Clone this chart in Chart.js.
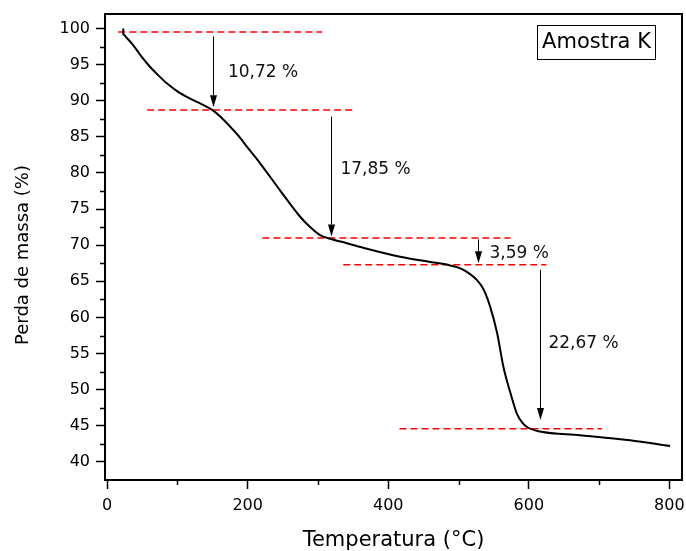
<!DOCTYPE html>
<html>
<head>
<meta charset="utf-8">
<script src="https://cdn.jsdelivr.net/npm/chart.js@4.4.0/dist/chart.umd.min.js"></script>
<style>
  html, body { margin: 0; padding: 0; background: #fff; }
</style>
</head>
<body>
<canvas id="tgaChart" width="686" height="551"></canvas>
<script>
// TGA curve
const temperature = [23, 23, 27, 37, 49, 61, 73, 85, 100, 118, 135, 150, 161, 177, 189, 200, 218, 246, 275, 290, 303, 317, 340, 370, 417, 465, 488, 505, 515, 526, 535, 545, 555, 564, 574, 583, 591, 598, 616, 673, 744, 801];
const massLoss = [100, 99.2, 98.8, 97.7, 96.1, 94.7, 93.5, 92.4, 91.3, 90.3, 89.5, 88.7, 87.8, 86.2, 84.9, 83.5, 81.3, 77.6, 73.9, 72.4, 71.4, 70.9, 70.3, 69.5, 68.4, 67.6, 67.2, 66.7, 66.1, 65.2, 64.0, 61.5, 57.8, 53.1, 49.5, 46.7, 45.4, 44.8, 44.2, 43.7, 43.0, 42.2];

const xMajorTicks = [0, 200, 400, 600, 800];
const xMinorTicks = [100, 300, 500, 700];
const yMajorTicks = [40, 45, 50, 55, 60, 65, 70, 75, 80, 85, 90, 95, 100];
const yMinorTicks = [42.5, 47.5, 52.5, 57.5, 62.5, 67.5, 72.5, 77.5, 82.5, 87.5, 92.5, 97.5];

// plateau levels (red dashed)
const levelValues = [99.5, 88.7, 71.0, 67.3, 44.6];
const levelStart = [16, 57, 221, 336, 416];
const levelEnd = [306, 349, 574, 625, 704];

// mass loss steps
const arrowX = [150, 318.5, 528, 616];
const arrowFrom = [98.9, 87.8, 70.8, 66.6];
const arrowTo = [89.1, 71.2, 67.5, 45.8];
const stepLabels = ['10,72 %', '17,85 %', '3,59 %', '22,67 %'];
const labelX = [172, 332, 544, 628];
const labelY = [93.9, 80.5, 68.8, 56.4];

const sampleName = 'Amostra K';
const xTitle = 'Temperatura (°C)';
const yTitle = 'Perda de massa (%)';

const FONT = 'DejaVu Sans';

const curve = temperature.map((t, i) => ({ x: t, y: massLoss[i] }));

const levelSets = levelValues.map((v, i) => ({
    data: [{ x: levelStart[i], y: v }, { x: levelEnd[i], y: v }],
    borderColor: '#ff0000',
    borderWidth: 1.5,
    borderDash: [7, 4],
    pointRadius: 0,
    tension: 0
}));

const extrasPlugin = {
    id: 'tgaExtras',
    afterDatasetsDraw(chart) {
        const { ctx, chartArea: area, scales: { x, y } } = chart;
        ctx.save();

        // minor ticks
        ctx.strokeStyle = '#000';
        ctx.lineWidth = 1.5;
        ctx.beginPath();
        yMinorTicks.forEach(v => {
            const py = Math.round(y.getPixelForValue(v)) + 0.5;
            ctx.moveTo(area.left - 5, py);
            ctx.lineTo(area.left, py);
        });
        xMinorTicks.forEach(v => {
            const px = Math.round(x.getPixelForValue(v)) + 0.5;
            ctx.moveTo(px, area.bottom);
            ctx.lineTo(px, area.bottom + 5);
        });
        ctx.stroke();

        // frame
        ctx.lineWidth = 2;
        ctx.strokeRect(area.left, area.top, area.right - area.left, area.bottom - area.top);

        // arrows
        ctx.fillStyle = '#000';
        ctx.lineWidth = 1;
        arrowX.forEach((ax, i) => {
            const px = Math.round(x.getPixelForValue(ax)) + 0.5;
            const y0 = y.getPixelForValue(arrowFrom[i]);
            const y1 = y.getPixelForValue(arrowTo[i]);
            const head = Math.min(12, (y1 - y0) * 0.6);
            ctx.beginPath();
            ctx.moveTo(px, y0);
            ctx.lineTo(px, y1 - head);
            ctx.stroke();
            ctx.beginPath();
            ctx.moveTo(px, y1);
            ctx.lineTo(px - 3.5, y1 - head);
            ctx.lineTo(px + 3.5, y1 - head);
            ctx.closePath();
            ctx.fill();
        });

        // step labels
        ctx.fillStyle = '#111';
        ctx.font = '17px "' + FONT + '"';
        ctx.textAlign = 'left';
        ctx.textBaseline = 'middle';
        stepLabels.forEach((txt, i) => {
            ctx.fillText(txt, x.getPixelForValue(labelX[i]), y.getPixelForValue(labelY[i]));
        });

        // sample box
        const bw = 118, bh = 34;
        const bx = area.right - 27 - bw, by = area.top + 11;
        ctx.lineWidth = 1;
        ctx.strokeStyle = '#000';
        ctx.strokeRect(bx + 0.5, by + 0.5, bw, bh);
        ctx.font = '21px "' + FONT + '"';
        ctx.textAlign = 'center';
        ctx.fillStyle = '#000';
        ctx.fillText(sampleName, bx + bw / 2 + 0.5, by + bh / 2 + 1);

        // y axis title (sits a bit below the axis centre in the original)
        ctx.translate(23, (area.top + area.bottom) / 2 + 8);
        ctx.rotate(-Math.PI / 2);
        ctx.font = '18px "' + FONT + '"';
        ctx.fillText(yTitle, 0, 0);

        ctx.restore();
    }
};

new Chart(document.getElementById('tgaChart').getContext('2d'), {
    type: 'line',
    data: {
        datasets: [
            {
                data: curve,
                borderColor: '#000',
                borderWidth: 2,
                pointRadius: 0,
                cubicInterpolationMode: 'monotone'
            },
            ...levelSets
        ]
    },
    options: {
        responsive: false,
        animation: false,
        devicePixelRatio: 1,
        layout: { padding: { top: 14, right: 4, left: 0, bottom: 0 } },
        plugins: {
            legend: { display: false },
            tooltip: { enabled: false }
        },
        scales: {
            x: {
                type: 'linear',
                min: -3,
                max: 818,
                afterBuildTicks: s => { s.ticks = xMajorTicks.map(v => ({ value: v })); },
                afterFit: s => { s.height = 71; s.paddingLeft = 0; s.paddingRight = 0; },
                grid: { drawOnChartArea: false, drawTicks: true, tickLength: 9, tickColor: '#000', tickWidth: 1.5 },
                border: { display: true, color: '#000', width: 2 },
                ticks: { color: '#000', padding: 7, font: { family: FONT, size: 16 } },
                title: {
                    display: true,
                    text: xTitle,
                    color: '#000',
                    font: { family: FONT, size: 21 },
                    padding: { top: 0, bottom: -2 }
                }
            },
            y: {
                type: 'linear',
                min: 37.5,
                max: 102,
                afterBuildTicks: s => { s.ticks = yMajorTicks.map(v => ({ value: v })); },
                afterFit: s => { s.width = 105; s.paddingTop = 0; s.paddingBottom = 0; },
                grid: { drawOnChartArea: false, drawTicks: true, tickLength: 9, tickColor: '#000', tickWidth: 1.5 },
                border: { display: true, color: '#000', width: 2 },
                ticks: { color: '#000', padding: 6, font: { family: FONT, size: 16 } },
                title: { display: false }
            }
        }
    },
    plugins: [extrasPlugin]
});
</script>
</body>
</html>
